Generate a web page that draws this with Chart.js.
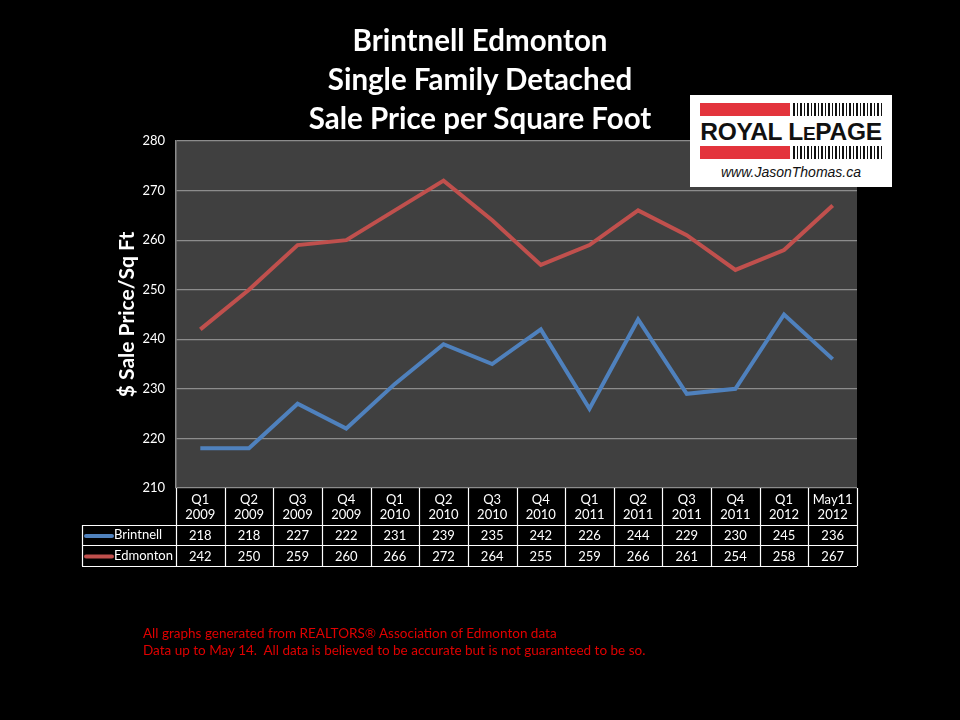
<!DOCTYPE html>
<html>
<head>
<meta charset="utf-8">
<script src="https://cdn.jsdelivr.net/npm/chart.js@4/dist/chart.umd.min.js"></script>
<style>
  html, body { margin:0; padding:0; background:#000; }
  #wrap { position:relative; width:960px; height:720px; background:#000; overflow:hidden; }
  canvas { position:absolute; left:0; top:0; }
  .title { position:absolute; left:0; width:960px; text-align:center; color:#fff;
           font-family: Lato, "Open Sans", sans-serif; font-weight:bold; font-size:29.5px; line-height:39px; top:20px; }
  .logo { position:absolute; left:690px; top:95px; width:202px; height:92px; background:#fff; }
  .bar { position:absolute; left:10px; width:90px; height:13px; background:#e3343c; }
  .stripes { position:absolute; left:103px; width:91px; height:13px;
             background: repeating-linear-gradient(90deg, #111 0 1.5px, #fff 1.5px 3.5px); }
  .brand { position:absolute; left:0; width:202px; top:23px; text-align:center; color:#111;
           font-family: "Liberation Sans", Arial, sans-serif; font-weight:bold; font-size:24.5px; letter-spacing:-0.3px; }
  .brand small { font-size:19px; }
  .web { position:absolute; left:0; width:202px; top:69px; text-align:center; color:#111;
         font-family: "Liberation Sans", Arial, sans-serif; font-style:italic; font-size:14px; }
  .foot { position:absolute; left:143px; top:625px; color:#e00000;
          font-family: Lato, "Open Sans", sans-serif; font-size:13.5px; line-height:17px; }
</style>
</head>
<body>
<div id="wrap">
  <canvas id="c" width="960" height="720"></canvas>
  <div class="title">Brintnell Edmonton<br>Single Family Detached<br>Sale Price per Square Foot</div>
  <div class="logo">
    <div class="bar" style="top:8px"></div><div class="stripes" style="top:8px"></div>
    <div class="brand">ROYAL L<small>E</small>PAGE</div>
    <div class="bar" style="top:51px"></div><div class="stripes" style="top:51px"></div>
    <div class="web">www.JasonThomas.ca</div>
  </div>
  <div class="foot">All graphs generated from REALTORS® Association of Edmonton data<br>Data up to May 14.&nbsp; All data is believed to be accurate but is not guaranteed to be so.</div>
</div>
<script>
const periods = ['Q1','Q2','Q3','Q4','Q1','Q2','Q3','Q4','Q1','Q2','Q3','Q4','Q1','May11'];
const years   = ['2009','2009','2009','2009','2010','2010','2010','2010','2011','2011','2011','2011','2012','2012'];
const brintnell = [218,218,227,222,231,239,235,242,226,244,229,230,245,236];
const edmonton  = [242,250,259,260,266,272,264,255,259,266,261,254,258,267];
const yTicks = [210,220,230,240,250,260,270,280];

const FONT = 'Lato, "Open Sans", sans-serif';

const plotBg = {
  id: 'plotBg',
  beforeDraw(chart) {
    const {ctx, chartArea:a} = chart;
    ctx.save();
    ctx.fillStyle = '#404040';
    ctx.fillRect(a.left, a.top, a.right - a.left, a.bottom - a.top);
    ctx.restore();
  }
};

const dataTable = {
  id: 'dataTable',
  afterDraw(chart) {
    const {ctx, chartArea:a} = chart;
    const xs = chart.scales.x;
    const n = chart.data.labels.length;
    const w = xs.getPixelForValue(1) - xs.getPixelForValue(0);
    const bounds = [];
    for (let i = 0; i <= n; i++) bounds.push(xs.getPixelForValue(0) - w/2 + i*w);
    const top = a.bottom, hBot = top + 37, r1 = hBot + 20, r2 = r1 + 21, left = 82;
    ctx.save();
    ctx.strokeStyle = '#ffffff';
    ctx.lineWidth = 1.2;
    ctx.beginPath();
    bounds.forEach(b => { ctx.moveTo(Math.round(b)+0.5, top); ctx.lineTo(Math.round(b)+0.5, r2); });
    ctx.moveTo(left+0.5, hBot); ctx.lineTo(left+0.5, r2);
    [hBot, r1, r2].forEach(y => { ctx.moveTo(left, y+0.5); ctx.lineTo(bounds[n], y+0.5); });
    ctx.stroke();

    ctx.fillStyle = '#ffffff';
    ctx.font = '13px ' + FONT;
    ctx.textAlign = 'center';
    ctx.textBaseline = 'middle';
    for (let i = 0; i < n; i++) {
      const cx = xs.getPixelForValue(i);
      ctx.fillText(chart.data.labels[i][0], cx, top + 12);
      ctx.fillText(chart.data.labels[i][1], cx, top + 27);
    }
    const rowsY = [(hBot + r1)/2 + 1, (r1 + r2)/2 + 1];
    chart.data.datasets.forEach((ds, k) => {
      const y = rowsY[k];
      ctx.fillStyle = '#ffffff';
      ctx.textAlign = 'center';
      ds.data.forEach((v, i) => ctx.fillText(String(v), xs.getPixelForValue(i), y));
      ctx.strokeStyle = ds.borderColor;
      ctx.lineWidth = 4;
      ctx.lineCap = 'round';
      ctx.beginPath(); ctx.moveTo(86, y); ctx.lineTo(112, y); ctx.stroke();
      ctx.textAlign = 'left';
      ctx.fillText(ds.label, 114, y - 1);
    });
    ctx.restore();
  }
};

new Chart(document.getElementById('c'), {
  type: 'line',
  data: {
    labels: periods.map((p, i) => [p, years[i]]),
    datasets: [
      { label: 'Brintnell', data: brintnell, borderColor: '#4f81bd', borderWidth: 4, pointRadius: 0, tension: 0, fill: false },
      { label: 'Edmonton', data: edmonton, borderColor: '#c0504d', borderWidth: 4, pointRadius: 0, tension: 0, fill: false }
    ]
  },
  options: {
    responsive: false,
    animation: false,
    layout: { padding: { left: 115, top: 141, right: 103, bottom: 232 } },
    plugins: { legend: { display: false }, tooltip: { enabled: false } },
    scales: {
      x: {
        offset: true,
        ticks: { display: false },
        grid: { display: false },
        border: { display: false },
        afterFit(s) { s.height = 0; }
      },
      y: {
        min: 210, max: 280,
        afterBuildTicks(s) { s.ticks = yTicks.map(v => ({ value: v })); },
        ticks: { color: '#ffffff', font: { family: FONT, size: 13 }, padding: 11 },
        grid: { color: '#8c8c8c', lineWidth: 1.2, drawTicks: false },
        border: { display: true, color: '#8c8c8c', width: 1.5 },
        title: { display: true, text: '$ Sale Price/Sq Ft', color: '#ffffff',
                 font: { family: FONT, size: 21, weight: 'bold' }, padding: { top: 0, bottom: 0 } },
        afterFit(s) { s.width = 61; }
      }
    }
  },
  plugins: [plotBg, dataTable]
});
</script>
</body>
</html>
